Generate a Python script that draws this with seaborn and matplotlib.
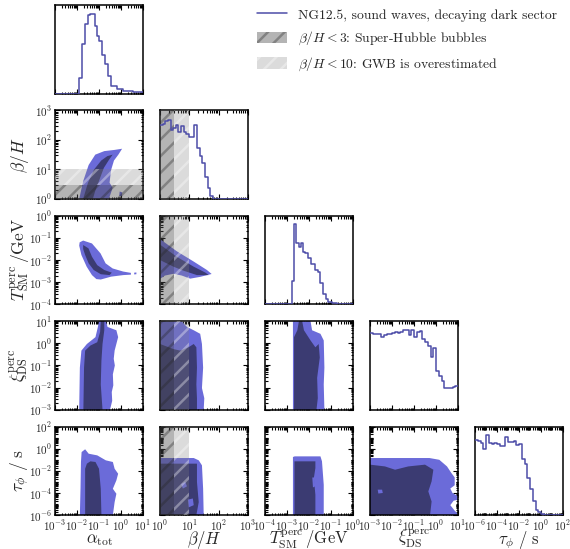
import numpy as np
import pandas as pd
import matplotlib
matplotlib.use('Agg')
import matplotlib.pyplot as plt
import seaborn as sns
from matplotlib.ticker import FixedLocator, FuncFormatter, NullFormatter
from matplotlib.patches import Patch
from matplotlib.lines import Line2D

sns.set_style('ticks')
plt.rcParams['font.family'] = ['cmr10', 'DejaVu Serif']
plt.rcParams['mathtext.fontset'] = 'cm'
plt.rcParams['axes.unicode_minus'] = False
plt.rcParams['axes.formatter.use_mathtext'] = True
plt.rcParams['hatch.linewidth'] = 1.8

# ---------------- parameters ----------------
param_labels = [r'$\alpha_{\rm tot}$', r'$\beta/H$',
                r'$T_{\rm SM}^{\rm perc}\,/{\rm GeV}$',
                r'$\xi_{\rm DS}^{\rm perc}$', r'$\tau_\phi\ /\ {\rm s}$']
log_ranges = [(-3, 1), (0, 3), (-4, 0), (-3, 1), (-6, 2)]
major_step = [1, 1, 1, 1, 2]

# ---------------- 1D histograms (log10 bin edges, normalised heights) ----------------
alpha_edges = [-3.0, -1.89, -1.77, -1.65, -1.52, -1.40, -1.20, -1.10, -0.98, -0.87,
               -0.72, -0.57, -0.45, -0.20, 0.10, 0.55, 1.0]
alpha_heights = [0.0, 0.17, 0.56, 0.79, 0.89, 0.90, 0.76, 0.65, 0.59, 0.44,
                 0.33, 0.20, 0.09, 0.056, 0.03, 0.02]

beta_edges = [0.0, 0.09, 0.18, 0.27, 0.36, 0.45, 0.54, 0.63, 0.72, 0.81, 0.90,
              0.99, 1.08, 1.17, 1.26, 1.35, 1.44, 1.53, 1.62, 1.71, 1.80, 3.0]
beta_heights = [0.83, 0.85, 0.88, 0.89, 0.78, 0.80, 0.83, 0.76, 0.82, 0.76,
                0.73, 0.70, 0.70, 0.84, 0.58, 0.49, 0.40, 0.25, 0.12, 0.03, 0.0]

T_edges = [-4.0, -2.79, -2.69, -2.57, -2.46, -2.35, -2.26, -2.16, -2.04, -1.93,
           -1.71, -1.60, -1.48, -1.37, -1.25, -1.13, -0.95, -0.72, 0.0]
T_heights = [0.0, 0.26, 0.91, 0.69, 0.65, 0.69, 0.59, 0.58, 0.52, 0.45,
             0.39, 0.36, 0.24, 0.12, 0.06, 0.03, 0.01, 0.0]

xi_edges = list(np.arange(-3.0, 1.0001, 0.125))
xi_heights = [0.87, 0.85, 0.86, 0.86, 0.82, 0.84, 0.86, 0.85, 0.87, 0.88, 0.87,
              0.88, 0.90, 0.90, 0.84, 0.90, 0.82, 0.88, 0.89, 0.80, 0.76, 0.72,
              0.59, 0.70, 0.44, 0.38, 0.32, 0.25, 0.245, 0.25, 0.26, 0.27]

tau_edges = list(np.arange(-6.0, 2.0001, 0.25))
tau_heights = [0.85, 0.84, 0.82, 0.75, 0.91, 0.82, 0.80, 0.82, 0.80, 0.785, 0.78,
               0.88, 0.83, 0.83, 0.84, 0.79, 0.80, 0.63, 0.58, 0.42, 0.30, 0.16,
               0.06, 0.03, 0.01, 0.005, 0, 0, 0, 0, 0, 0]

hist_data = [(alpha_edges, alpha_heights), (beta_edges, beta_heights),
             (T_edges, T_heights), (xi_edges, xi_heights), (tau_edges, tau_heights)]

# ---------------- 2D credible regions (log10 outlines) ----------------
alpha_beta_95 = [(-1.90, 0.0), (-1.72, 0.6), (-1.47, 1.15), (-1.17, 1.50), (-0.76, 1.62),
                 (-0.30, 1.66), (0.05, 1.70), (-0.12, 1.50), (-0.32, 1.30), (-0.45, 0.98),
                 (-0.52, 0.55), (-0.38, 0.38), (-0.45, 0.22), (-0.55, 0.0)]
alpha_beta_95_blob = [(-0.08, 0.10), (0.04, 0.10), (0.06, 0.22), (-0.06, 0.25)]
alpha_beta_68 = [(-1.72, 0.0), (-1.50, 0.55), (-1.22, 1.0), (-0.90, 1.30), (-0.62, 1.45),
                 (-0.38, 1.50), (-0.55, 1.32), (-0.78, 1.05), (-0.98, 0.65), (-1.18, 0.25),
                 (-1.28, 0.0)]

alpha_T_95 = [(-1.88, -1.20), (-1.72, -1.12), (-1.32, -1.25), (-0.93, -1.70), (-0.70, -2.15),
              (-0.38, -2.38), (0.10, -2.52), (0.45, -2.58), (0.45, -2.66), (0.10, -2.68),
              (-0.45, -2.75), (-0.92, -2.88), (-1.12, -2.86), (-1.32, -2.68), (-1.56, -2.30),
              (-1.80, -1.77), (-1.90, -1.35)]
alpha_T_95_blob = [(0.60, -2.57), (0.70, -2.56), (0.70, -2.64), (0.60, -2.65)]
alpha_T_68 = [(-1.72, -1.32), (-1.48, -1.47), (-1.32, -1.85), (-1.08, -2.23), (-0.76, -2.45),
              (-0.42, -2.57), (-0.52, -2.68), (-0.92, -2.64), (-1.24, -2.45), (-1.47, -2.15),
              (-1.63, -1.77), (-1.72, -1.50)]

beta_T_95 = [(0.0, -1.05), (0.57, -1.60), (1.15, -2.07), (1.60, -2.45), (1.76, -2.63),
             (1.37, -2.76), (1.03, -2.84), (0.74, -2.70), (0.46, -2.62), (0.17, -2.70),
             (0.0, -2.85)]
beta_T_68 = [(0.0, -1.30), (0.57, -1.85), (1.15, -2.30), (1.55, -2.57), (1.66, -2.68),
             (1.26, -2.68), (0.80, -2.48), (0.46, -2.30), (0.23, -2.15), (0.0, -2.0)]

alpha_xi_95 = [(-1.90, -3.0), (-1.87, -1.10), (-1.80, -0.33), (-1.55, -0.03), (-1.16, 0.28),
               (-1.05, 0.74), (-1.00, 1.0), (-0.69, 1.0), (-0.61, 0.74), (-0.21, 0.59),
               (-0.13, 0.28), (-0.29, -0.33), (-0.33, -0.70), (-0.28, -1.0), (-0.37, -1.4),
               (-0.35, -1.9), (-0.42, -2.2), (-0.40, -2.6), (-0.50, -3.0)]
alpha_xi_68 = [(-1.71, -3.0), (-1.68, -1.10), (-1.63, -0.33), (-1.39, -0.10), (-1.08, 0.05),
               (-0.95, 0.51), (-0.92, 1.0), (-0.76, 1.0), (-0.76, 0.59), (-0.84, -0.03),
               (-0.89, -0.79), (-0.92, -1.86), (-0.84, -3.0)]

beta_xi_95 = [(0.0, -3.0), (0.0, 1.0), (0.74, 1.0), (0.86, 0.82), (0.92, 0.74), (1.15, 0.59),
              (1.37, 0.43), (1.43, -0.03), (1.47, -1.10), (1.43, -2.02), (1.51, -2.48),
              (1.49, -3.0)]
beta_xi_68 = [(0.0, -3.0), (0.0, -0.03), (0.46, -0.26), (0.69, -0.33), (0.97, -0.18),
              (1.15, -0.03), (1.24, -0.18), (1.26, -1.10), (1.24, -1.86), (1.26, -2.48),
              (1.26, -3.0)]

T_xi_95 = [(-2.73, -3.0), (-2.73, 1.0), (-1.93, 1.0), (-1.86, 0.59), (-1.48, 0.43),
           (-1.33, 0.13), (-1.30, -1.10), (-1.33, -1.86), (-1.30, -3.0)]
T_xi_68 = [(-2.68, -3.0), (-2.68, 0.28), (-2.53, 0.59), (-2.46, 1.0), (-2.31, 1.0),
           (-2.23, 0.59), (-1.93, 0.13), (-1.71, -0.18), (-1.56, -0.03), (-1.51, -0.64),
           (-1.63, -1.56), (-1.60, -2.48), (-1.66, -3.0)]

alpha_tau_95 = [(-1.87, -6.0), (-1.84, -3.6), (-1.82, -1.2), (-1.79, -0.30), (-1.63, -0.05),
                (-1.47, -0.45), (-1.08, -0.60), (-0.69, -1.05), (-0.37, -1.20), (-0.29, -1.81),
                (-0.13, -2.26), (-0.21, -2.86), (-0.37, -3.62), (-0.21, -4.07), (-0.29, -4.83),
                (-0.37, -6.0)]
alpha_tau_68 = [(-1.63, -6.0), (-1.63, -1.81), (-1.55, -1.35), (-1.39, -1.14), (-1.16, -1.20),
                (-1.00, -1.81), (-0.92, -3.62), (-0.89, -6.0)]

beta_tau_95 = [(0.0, -6.0), (0.0, -0.84), (1.15, -0.84), (1.32, -1.05), (1.43, -1.50),
               (1.47, -3.62), (1.49, -6.0)]
beta_tau_68 = [(0.0, -6.0), (0.0, -1.35), (1.26, -1.35), (1.26, -3.0), (1.32, -4.83),
               (1.24, -6.0)]
beta_tau_hole1 = [(0.72, -3.2), (0.86, -3.0), (0.92, -3.4), (0.78, -3.6)]
beta_tau_hole2 = [(0.95, -4.6), (1.12, -4.5), (1.15, -5.1), (0.98, -5.3)]

T_tau_95 = [(-2.73, -6.0), (-2.73, -0.75), (-2.65, -0.69), (-1.48, -0.69), (-1.41, -1.14),
            (-1.33, -3.26), (-1.33, -6.0)]
T_tau_68 = [(-2.66, -6.0), (-2.66, -1.14), (-1.71, -1.14), (-1.71, -1.75), (-1.78, -2.65),
            (-1.71, -4.16), (-1.71, -6.0)]
T_tau_hole = [(-1.85, -2.6), (-1.75, -2.6), (-1.72, -3.4), (-1.82, -3.5)]

xi_tau_95 = [(-3.0, -6.0), (-3.0, -0.84), (-0.30, -0.84), (0.15, -1.0), (0.50, -1.6),
             (0.70, -2.2), (0.85, -2.6), (0.85, -3.3), (0.65, -3.6), (0.75, -4.0),
             (1.0, -4.3), (1.0, -4.6), (0.80, -4.7), (0.65, -5.1), (0.85, -5.6),
             (1.0, -5.9), (1.0, -6.0)]
xi_tau_68 = [(-3.0, -6.0), (-3.0, -1.44), (-2.32, -1.60), (-1.86, -1.90), (-1.26, -1.60),
             (-0.50, -1.44), (-0.12, -1.90), (-0.20, -2.95), (-0.35, -3.86), (-0.20, -4.77),
             (-0.27, -6.0)]
xi_tau_hole = [(-2.65, -3.7), (-2.45, -3.7), (-2.42, -4.0), (-2.62, -4.05)]

regions = {
    (1, 0): ([alpha_beta_95, alpha_beta_95_blob], [alpha_beta_68], []),
    (2, 0): ([alpha_T_95, alpha_T_95_blob], [alpha_T_68], []),
    (2, 1): ([beta_T_95], [beta_T_68], []),
    (3, 0): ([alpha_xi_95], [alpha_xi_68], []),
    (3, 1): ([beta_xi_95], [beta_xi_68], []),
    (3, 2): ([T_xi_95], [T_xi_68], []),
    (4, 0): ([alpha_tau_95], [alpha_tau_68], []),
    (4, 1): ([beta_tau_95], [beta_tau_68], [beta_tau_hole1, beta_tau_hole2]),
    (4, 2): ([T_tau_95], [T_tau_68], [T_tau_hole]),
    (4, 3): ([xi_tau_95], [xi_tau_68], [xi_tau_hole]),
}

# beta/H thresholds
beta_superhubble = 3.0
beta_overest = 10.0

# ---------------- styles ----------------
c95 = '#6b6bd9'
c68 = '#3b3b72'
hist_color = '#4d4da8'
dark_face = (0.30, 0.30, 0.30, 0.42)
dark_hatch = (0.15, 0.15, 0.15, 0.35)
light_face = (0.50, 0.50, 0.50, 0.28)
light_hatch = (1.0, 1.0, 1.0, 0.35)

W, H = 570, 549
fig = plt.figure(figsize=(W / 100, H / 100), dpi=100)
col_left = [55, 160, 265, 370, 475]
row_top = [5, 110.4, 215.8, 321.2, 426.6]
pw, ph = 88, 88.5

fmt = FuncFormatter(lambda v, p: r'$10^{%d}$' % int(round(v)))


def set_log_axis(axis, j):
    lo, hi = log_ranges[j]
    majors = list(np.arange(lo, hi + 0.001, major_step[j]))
    minors = []
    for k in range(lo, hi):
        if k not in majors:
            minors.append(k)
        for m in range(2, 10):
            minors.append(k + np.log10(m))
    axis.set_major_locator(FixedLocator(majors))
    axis.set_minor_locator(FixedLocator(minors))
    axis.set_major_formatter(fmt)


def beta_bands(ax, orient):
    lo = np.log10(1.0)
    b3 = np.log10(beta_superhubble)
    b10 = np.log10(beta_overest)
    span = ax.axvspan if orient == 'v' else ax.axhspan
    span(b3, b10, facecolor=light_face, edgecolor=light_hatch, hatch='//', lw=0, zorder=3)
    span(lo, b3, facecolor=dark_face, edgecolor=dark_hatch, hatch='//', lw=0, zorder=3)


for i in range(5):
    for j in range(i + 1):
        ax = fig.add_axes([col_left[j] / W, 1 - (row_top[i] + ph) / H, pw / W, ph / H])
        if i == j:
            edges, heights = hist_data[i]
            edges = [float(e) for e in edges]
            centers = [0.5 * (a + b) for a, b in zip(edges[:-1], edges[1:])]
            df = pd.DataFrame({'x': centers, 'w': [float(h) for h in heights]})
            sns.histplot(data=df, x='x', weights='w', bins=edges, element='step',
                         fill=False, color=hist_color, linewidth=1.1, ax=ax, zorder=4)
            ax.set_ylim(0, 1.0)
            ax.set_yticks([])
            ax.set_ylabel('')
            if i == 1:
                beta_bands(ax, 'v')
        else:
            outer, inner, holes = regions[(i, j)]
            for poly in outer:
                p = np.array(poly)
                ax.fill(p[:, 0], p[:, 1], color=c95, lw=0, zorder=1)
            for poly in inner:
                p = np.array(poly)
                ax.fill(p[:, 0], p[:, 1], color=c68, lw=0, zorder=1.5)
            for poly in holes:
                p = np.array(poly)
                ax.fill(p[:, 0], p[:, 1], color=c95, lw=0, zorder=1.6)
            set_log_axis(ax.yaxis, i)
            ax.set_ylim(*log_ranges[i])
            if j == 1:
                beta_bands(ax, 'v')
            if i == 1 and j == 0:
                beta_bands(ax, 'h')
            if j == 0:
                ax.set_ylabel(param_labels[i], fontsize=12.5, va='baseline')
                ax.yaxis.set_label_coords(-0.35, 0.5)
            else:
                ax.yaxis.set_major_formatter(NullFormatter())
        set_log_axis(ax.xaxis, j)
        ax.set_xlim(*log_ranges[j])
        if i == 4:
            ax.set_xlabel(param_labels[j], fontsize=12, va='baseline')
            ax.xaxis.set_label_coords(0.5, -0.322)
        else:
            ax.xaxis.set_major_formatter(NullFormatter())
            ax.set_xlabel('')
        ax.tick_params(which='both', direction='in', top=True, right=(i != j), left=(i != j),
                       labelsize=8, pad=2, width=0.8, color='black')
        ax.tick_params(which='major', length=3.5)
        ax.tick_params(which='minor', length=1.8)
        for s in ax.spines.values():
            s.set_linewidth(1.1)
            s.set_color('black')
            s.set_visible(True)

handles = [Line2D([], [], color=hist_color, lw=1.1),
           Patch(facecolor=dark_face, edgecolor=dark_hatch, hatch='//', lw=0),
           Patch(facecolor=light_face, edgecolor=light_hatch, hatch='//', lw=0)]
labels = ['NG12.5, sound waves, decaying dark sector',
          r'$\beta/H<3$: Super-Hubble bubbles',
          r'$\beta/H<10$: GWB is overestimated']
fig.legend(handles, labels, loc='upper left', bbox_to_anchor=(257 / W, 1 - 8 / H),
           frameon=False, fontsize=9.8, handlelength=2.2, handleheight=0.95,
           handletextpad=0.8, labelspacing=0.62, borderpad=0, borderaxespad=0)

fig.savefig('out.png', dpi=100)
